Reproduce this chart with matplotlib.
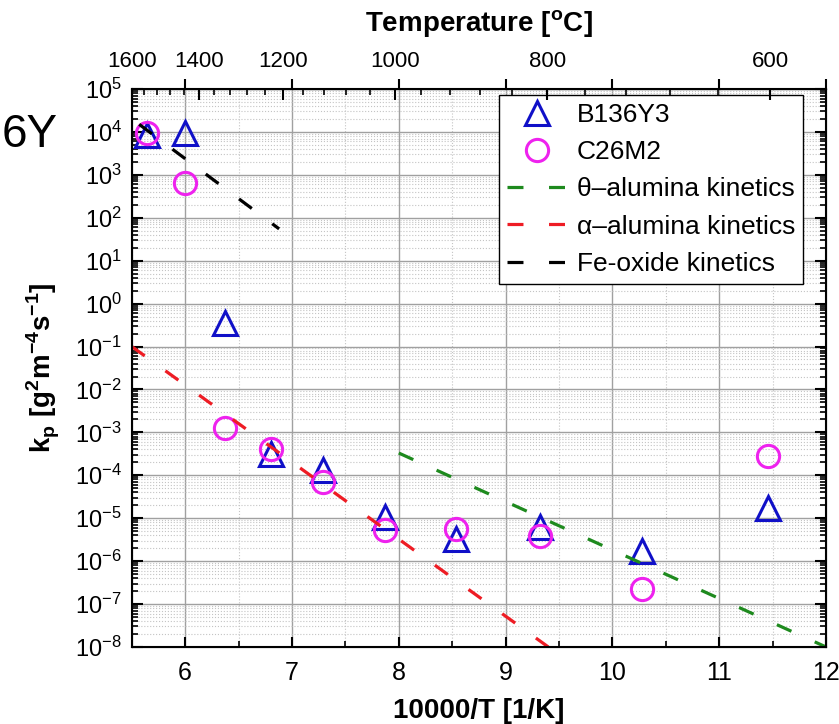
import numpy as np
import matplotlib
matplotlib.use('Agg')
import matplotlib.pyplot as plt
from matplotlib.ticker import LogLocator, MultipleLocator, NullFormatter, FixedLocator

plt.rcParams['font.family'] = ['Liberation Sans', 'DejaVu Sans']

# measured parabolic rate constants vs inverse temperature
inv_T = [5.64, 6.0, 6.37, 6.80, 7.29, 7.87, 8.54, 9.32, 10.28, 11.46]
b136y3_kp = [8.5e3, 9.5e3, 0.35, 3.1e-4, 1.3e-4, 1.05e-5, 3.2e-6, 6.3e-6, 1.7e-6, 1.7e-5]
c26m2_kp = [9.4e3, 6.3e2, 1.23e-3, 4.0e-4, 7.0e-5, 5.2e-6, 5.5e-6, 3.8e-6, 2.2e-7, 2.8e-4]

# literature kinetics (end points of the lines)
theta_x = [8.0, 12.0]
theta_kp = [3.3e-4, 1e-8]
alpha_x = [5.5, 9.4]
alpha_kp = [1e-1, 1e-8]
feox_x = [5.57, 6.88]
feox_kp = [1.5e4, 55]

temp_labels_C = [1600, 1400, 1200, 1000, 800, 600]
temp_minor_C = list(range(560, 1601, 40))

fig = plt.figure(figsize=(8.39, 7.24), dpi=100)
ax = fig.add_axes([0.157, 0.1064, 0.8275, 0.7707])

dash = (0, (5, 8))
ax.plot(inv_T, b136y3_kp, '^', ms=17, mfc='none', mec='#1010c8', mew=2.2, label='B136Y3')
ax.plot(inv_T, c26m2_kp, 'o', ms=16, mfc='none', mec='#ee22ee', mew=2.2, label='C26M2')
ax.plot(theta_x, theta_kp, color='#1e8a1e', lw=2.3, ls=dash, label='θ–alumina kinetics')
ax.plot(alpha_x, alpha_kp, color='#ee1c24', lw=2.3, ls=dash, label='α–alumina kinetics')
ax.plot(feox_x, feox_kp, color='black', lw=2.3, ls=dash, label='Fe-oxide kinetics')

ax.set_yscale('log')
ax.set_xlim(5.5, 12)
ax.set_ylim(1e-8, 1e5)
ax.xaxis.set_major_locator(MultipleLocator(1))
ax.xaxis.set_minor_locator(MultipleLocator(0.5))
ax.yaxis.set_major_locator(LogLocator(base=10, numticks=20))
ax.yaxis.set_minor_locator(LogLocator(base=10, subs=np.arange(2, 10), numticks=20))
ax.yaxis.set_minor_formatter(NullFormatter())

ax.grid(True, which='major', color='#a0a0a0', lw=1.0, ls='-')
ax.grid(True, which='minor', color='#c4c4c4', lw=0.8, ls=':')
ax.set_axisbelow(True)

ax.tick_params(axis='x', which='both', direction='in', top=False, bottom=True,
               labelsize=18, pad=10)
ax.tick_params(axis='x', which='major', length=7, width=1.5)
ax.tick_params(axis='x', which='minor', length=4, width=1.2)
ax.tick_params(axis='y', which='both', direction='in', left=True, right=True,
               labelsize=17, pad=7)
ax.tick_params(axis='y', which='major', length=8, width=1.5)
ax.tick_params(axis='y', which='minor', length=4, width=1.2)
for sp in ax.spines.values():
    sp.set_linewidth(1.5)

ax.set_xlabel('10000/T [1/K]', fontsize=20, fontweight='bold')
ax.xaxis.set_label_coords(0.5, -0.092)
ax.set_ylabel('k$_\\mathregular{p}$ [g$^\\mathregular{2}$m$^\\mathregular{-4}$s$^\\mathregular{-1}$]',
              fontsize=20, fontweight='bold')
ax.yaxis.set_label_coords(-0.10, 0.5)

# outward integer ticks on top edge
sec = ax.secondary_xaxis('top')
sec.set_xticks(range(6, 13))
sec.tick_params(direction='out', length=7, width=1.5, labeltop=False)

# temperature axis on top
ax_t = ax.twiny()
ax_t.set_xlim(5.335, 11.99)
ax_t.xaxis.set_major_locator(FixedLocator([10000 / (t + 273) for t in temp_labels_C]))
ax_t.xaxis.set_minor_locator(FixedLocator([10000 / (t + 273) for t in temp_minor_C]))
ax_t.set_xticklabels([str(t) for t in temp_labels_C])
ax_t.tick_params(axis='x', which='both', direction='in', labelsize=16, pad=12)
ax_t.tick_params(axis='x', which='major', length=8, width=1.5)
ax_t.tick_params(axis='x', which='minor', length=4, width=1.2)
ax_t.set_xlabel('Temperature [$^\\mathregular{o}$C]', fontsize=20, fontweight='bold')
ax_t.xaxis.set_label_coords(0.5, 1.102)

leg = ax.legend(loc='upper right', bbox_to_anchor=(0.967, 0.989), borderaxespad=0,
                fontsize=19, handlelength=2.25, handletextpad=0.4, labelspacing=0.5,
                borderpad=0.3, fancybox=False, framealpha=1, edgecolor='black')
leg.get_frame().set_linewidth(1.0)
leg.set_zorder(10)

fig.text(0.002, 1 - 135 / 724, '6Y', fontsize=33, ha='left', va='center')

fig.savefig('out.png', dpi=100)
